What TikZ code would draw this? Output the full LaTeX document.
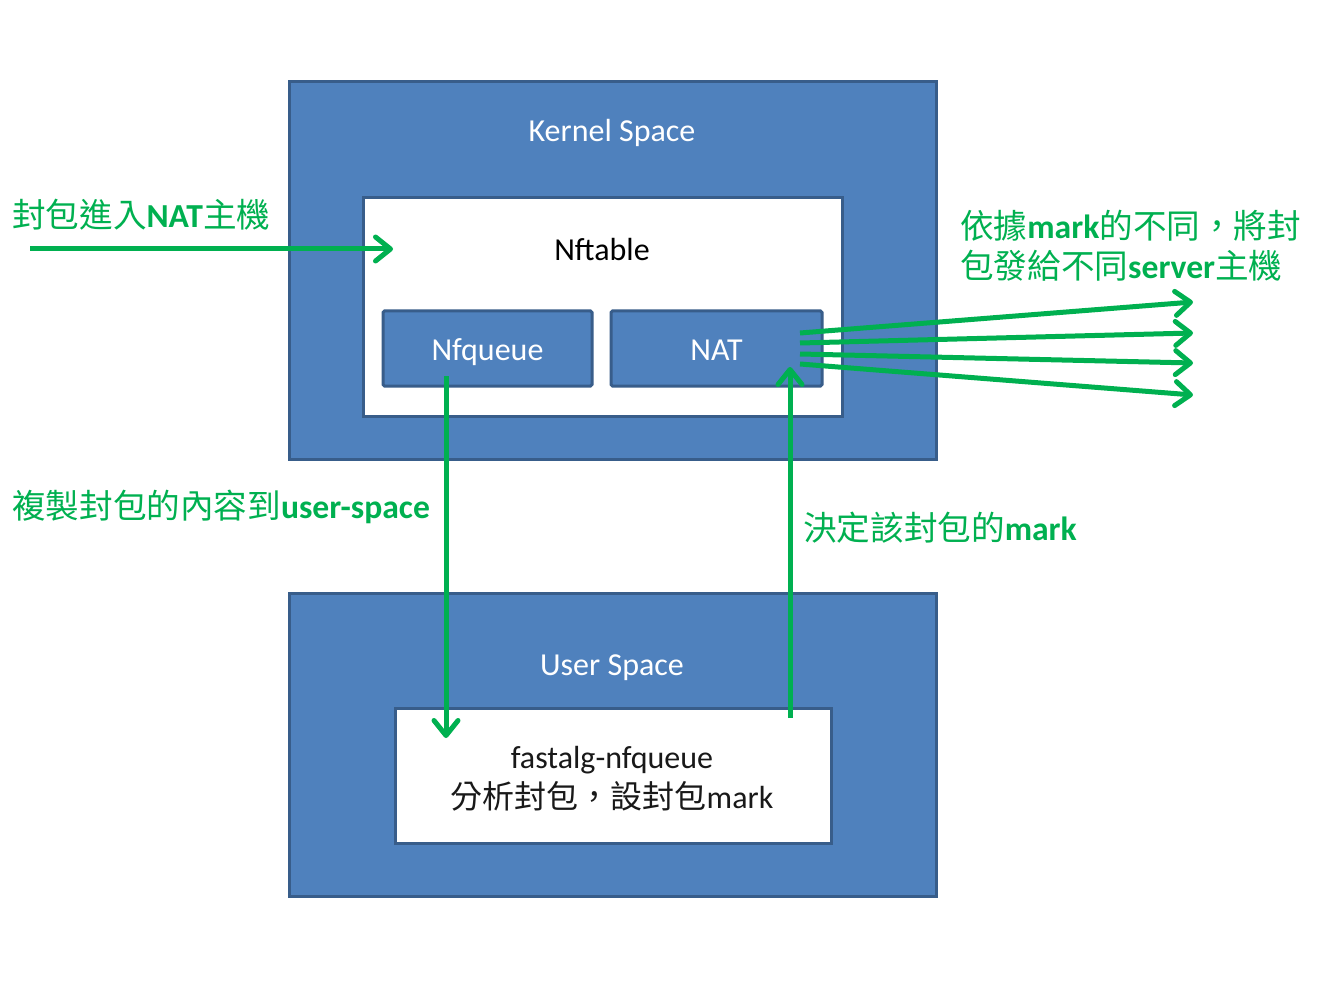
\documentclass[tikz,border=0pt]{standalone}
\usepackage{fontspec}
\setmainfont{Carlito}
\newfontfamily\cjk{Noto Sans CJK TC}
\usetikzlibrary{arrows.meta}

\definecolor{boxblue}{HTML}{4F81BD}
\definecolor{boxedge}{HTML}{385D8A}
\definecolor{flowgreen}{HTML}{00B050}

\tikzset{
  bigfont/.style={font=\fontsize{32}{40}\selectfont},
  spacebox/.style={draw=boxedge, fill=boxblue, line width=3pt, inner sep=0pt},
  whitebox/.style={draw=boxedge, fill=white, line width=3pt, inner sep=0pt},
  modbox/.style={spacebox, rounded corners=1.5pt, text=white, bigfont,
    text height=26pt, text depth=3pt},
  title/.style={text=white, bigfont},
  note/.style={text=flowgreen, anchor=west, inner sep=0pt, font=\fontsize{33.6}{40}\selectfont},
  flow/.style={draw=flowgreen, line width=5pt,
    -{Straight Barb[length=15pt, width=24pt, line cap=round, line join=round]}}
}

\begin{document}
\begin{tikzpicture}[x=1pt, y=-1pt]
\useasboundingbox (0,0) rectangle (1331,1000);

% kernel side
\node[spacebox, minimum width=647pt, minimum height=377pt] (K) at (612.5,270.5) {};
\node[title] (Kt) at (612,133) {Kernel Space};
\node[whitebox, minimum width=479pt, minimum height=218pt] (T) at (602.5,307) {};
\node[bigfont] (Tt) at (602,250) {Nftable};
\node[modbox, minimum width=209pt, minimum height=75pt] (Q) at (487.5,348.5) {Nfqueue};
\node[modbox, minimum width=211pt, minimum height=75pt] (N) at (716.5,348.5) {NAT};

% user side
\node[spacebox, minimum width=647pt, minimum height=303pt] (U) at (612.5,744.5) {};
\node[title] (Ut) at (612,668) {User Space};
\node[whitebox, minimum width=436pt, minimum height=135pt] (F) at (613,775.5) {};
\node[bigfont, align=center, text=black!90] (Ft) at (612,779)
  {fastalg-nfqueue\\{\cjk 分析封包，設封包}mark};

% arrow ends
\coordinate (in0) at (30,249);
\coordinate (in1) at (393,249);
\coordinate (dn0) at (446,376);
\coordinate (dn1) at (446,738);
\coordinate (up0) at (790,718);
\coordinate (up1) at (790,367);

\draw[flow] (in0) -- (in1);
\draw[flow] (dn0) -- (dn1);
\draw[flow] (up0) -- (up1);

\foreach \i/\ya/\yb in {1/333/302, 2/343/333, 3/354/363, 4/364/395} {
  \coordinate (out\i a) at (800,\ya);
  \coordinate (out\i b) at (1193,\yb);
  \draw[flow] (out\i a) -- (out\i b);
}

% labels
\node[note] (L1) at (12,215) {{\cjk 封包進入}\textbf{NAT}{\cjk 主機}};
\node[note] (L2) at (960,226) {{\cjk 依據}\textbf{mark}{\cjk 的不同，將封}};
\node[note] (L3) at (960,266) {{\cjk 包發給不同}\textbf{server}{\cjk 主機}};
\node[note] (L4) at (12,507) {{\cjk 複製封包的內容到}\textbf{user-space}};
\node[note] (L5) at (803,528) {{\cjk 決定該封包的}\textbf{mark}};
\end{tikzpicture}
\end{document}
